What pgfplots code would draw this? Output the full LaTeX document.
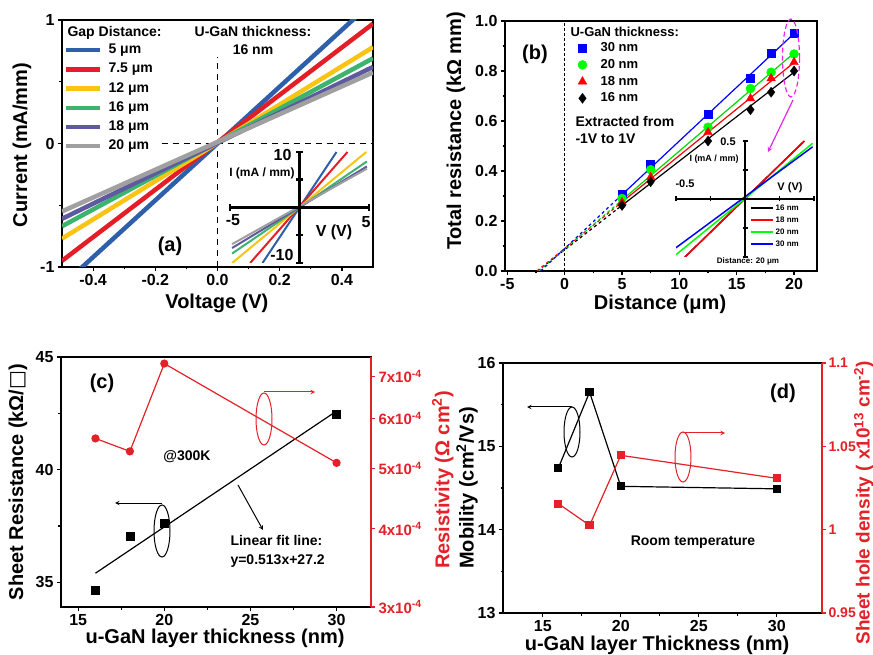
\documentclass[border=0pt]{standalone}
\usepackage{fontspec}
\setmainfont{Liberation Sans}
\newfontfamily\dejavu{DejaVu Sans}
\usepackage{pgfplots}
\pgfplotsset{compat=1.18}

\definecolor{cBlue}{RGB}{46,95,170}
\definecolor{cRed}{RGB}{228,30,38}
\definecolor{cYel}{RGB}{250,196,20}
\definecolor{cGrn}{RGB}{60,180,110}
\definecolor{cPur}{RGB}{95,90,160}
\definecolor{cGry}{RGB}{160,160,160}
\definecolor{pRed}{RGB}{228,32,40}
\definecolor{mag}{RGB}{230,40,230}

\newcommand{\fs}[1]{\fontsize{#1}{#1}\selectfont\bfseries}

\pgfplotsset{
  panel/.style={scale only axis, anchor=south west, enlargelimits=false,
    axis line style={line width=1.6pt}, tick style={line width=1.2pt, black},
    tick align=outside, tick pos=left, major tick length=4pt, minor tick length=2.5pt,
    /pgf/number format/assume math mode=true,
    tick label style={font=\fs{16}}, label style={font=\fs{20}}},
  inset/.style={scale only axis, anchor=south west, enlargelimits=false,
    axis lines=middle, axis on top, xticklabels={}, yticklabels={},
    tick align=center, tick style={black}},
}

\begin{document}
\begin{tikzpicture}
\path[use as bounding box] (0pt,0pt) rectangle (873pt,654pt);

% ---------- (a) ----------
\begin{axis}[panel, at={(62pt,387pt)}, width=311pt, height=247pt,
  xmin=-0.5, xmax=0.5, ymin=-1, ymax=1,
  xtick={-0.4,-0.2,0,0.2,0.4}, xticklabels={-0.4,-0.2,0.0,0.2,0.4},
  minor xtick={-0.3,-0.1,0.1,0.3}, ytick={-1,0,1}, minor ytick={-0.5,0.5},
  xlabel={Voltage (V)}, ylabel={Current (mA/mm)},
  xlabel style={at={(axis description cs:0.498,-0.146)}, anchor=center},
  ylabel style={at={(axis description cs:-0.129,0.494)}, anchor=center},
  legend style={at={(axis description cs:0.006,0.905)}, anchor=north west,
    draw=none, fill=none, inner sep=0pt, font=\fs{14}, row sep=6.2pt,
    nodes={inner sep=0pt, text height=10pt, text depth=3pt}},
  legend cell align=left,
  legend image code/.code={\draw[#1] (0pt,0pt) -- (34pt,0pt); \path (40pt,0pt);},
]
\draw[dashed, line width=1.5pt, dash pattern=on 6pt off 5pt] (axis cs:0,-1) -- (axis cs:0,0.7);
\draw[dashed, line width=1.5pt, dash pattern=on 6pt off 5pt] (axis cs:-0.18,0) -- (axis cs:0.5,0);
\addplot[cBlue, line width=4.5pt] coordinates {(-0.5,-1.15) (0.5,1.15)};
\addlegendentry{5 μm}
\addplot[cRed, line width=4.5pt] coordinates {(-0.5,-0.95) (0.5,0.97)};
\addlegendentry{7.5 μm}
\addplot[cYel, line width=4.5pt] coordinates {(-0.5,-0.77) (0.5,0.78)};
\addlegendentry{12 μm}
\addplot[cGrn, line width=4.5pt] coordinates {(-0.5,-0.67) (0.5,0.69)};
\addlegendentry{16 μm}
\addplot[cPur, line width=4.5pt] coordinates {(-0.5,-0.61) (0.5,0.62)};
\addlegendentry{18 μm}
\addplot[cGry, line width=4.5pt] coordinates {(-0.5,-0.55) (0.5,0.575)};
\addlegendentry{20 μm}
\end{axis}

% inset (a)
\begin{axis}[inset, at={(230pt,391pt)}, width=139pt, height=111pt,
  xmin=-5, xmax=5, ymin=-10, ymax=10,
  axis line style={-, line width=3pt}, xtick={-5,5}, ytick={-10,-5,5,10},
  tick style={line width=2.5pt}, major tick length=7pt]
\addplot[cBlue, line width=2pt] coordinates {(-2.66,-10) (2.66,10)};
\addplot[cRed, line width=2pt] coordinates {(-3.55,-10) (3.45,10)};
\addplot[cYel, line width=2pt] coordinates {(-4.85,-10) (4.8,10)};
\addplot[cGrn, line width=2pt] coordinates {(-4.85,-8.3) (4.85,8.3)};
\addplot[cPur, line width=2pt] coordinates {(-4.85,-7.3) (4.85,7.4)};
\addplot[cGry, line width=2pt] coordinates {(-4.85,-6.6) (4.85,7.0)};
\end{axis}

\node[anchor=west, font=\fs{14}] at (64pt,621pt) {Gap Distance:};
\node[font=\fs{14}] at (253pt,622pt) {U-GaN thickness:};
\node[font=\fs{14}] at (253pt,604pt) {16 nm};
\node[font=\fs{20}] at (170pt,408pt) {(a)};
\node[font=\fs{16}, anchor=east] at (295pt,499pt) {10};
\node[font=\fs{16}, anchor=east] at (297pt,399pt) {-10};
\node[font=\fs{16}] at (233pt,434pt) {-5};
\node[font=\fs{16}] at (366pt,432pt) {5};
\node[font=\fs{16}] at (334pt,422pt) {V (V)};
\node[font=\fs{12}] at (262pt,481pt) {I (mA / mm)};

% ---------- (b) ----------
\begin{axis}[panel, at={(505pt,383pt)}, width=312pt, height=250pt,
  xmin=-5.2, xmax=22, ymin=0, ymax=1,
  xtick={-5,0,5,10,15,20}, minor xtick={-2.5,2.5,7.5,12.5,17.5},
  ytick={0,0.2,0.4,0.6,0.8,1}, yticklabels={0.0,0.2,0.4,0.6,0.8,1.0},
  minor ytick={0.1,0.3,0.5,0.7,0.9},
  xlabel={Distance (μm)}, ylabel={Total resistance (kΩ mm)},
  xlabel style={at={(axis description cs:0.497,-0.132)}, anchor=center},
  ylabel style={at={(axis description cs:-0.157,0.56)}, anchor=center},
  legend style={at={(axis description cs:0.231,0.916)}, anchor=north west,
    draw=none, fill=none, inner sep=0pt, font=\fs{13}, row sep=4.7pt,
    nodes={inner sep=0pt, text height=9.5pt, text depth=2.5pt}},
  legend cell align=left,
  legend image code/.code={\draw[#1] plot coordinates {(5pt,0pt)}; \path (0pt,0pt) (23pt,0pt);},
]
\draw[line width=0.8pt, dash pattern=on 3pt off 2pt] (axis cs:0,0) -- (axis cs:0,1);
% fitted lines
\addplot[black, line width=1.2pt, forget plot] coordinates {(4.6,0.248) (20,0.795)};
\addplot[black, line width=1.2pt, dashed, forget plot] coordinates {(-2.39,0) (4.6,0.248)};
\addplot[red, line width=1.2pt, forget plot] coordinates {(4.6,0.261) (20,0.834)};
\addplot[red, line width=1.2pt, dashed, forget plot] coordinates {(-2.42,0) (4.6,0.261)};
\addplot[green!85!black, line width=1.2pt, forget plot] coordinates {(4.6,0.268) (20,0.872)};
\addplot[green!85!black, line width=1.2pt, dashed, forget plot] coordinates {(-2.24,0) (4.6,0.268)};
\addplot[blue, line width=1.2pt, forget plot] coordinates {(4.6,0.288) (20,0.95)};
\addplot[blue, line width=1.2pt, dashed, forget plot] coordinates {(-2.09,0) (4.6,0.288)};
% data
\addplot[only marks, mark=square*, mark size=4pt, blue] coordinates {(5,0.306) (7.5,0.427) (12.5,0.627) (16.2,0.77) (18,0.872) (20,0.952)};
\addlegendentry{30 nm}
\addplot[only marks, mark=*, mark size=4.5pt, green] coordinates {(5,0.29) (7.5,0.405) (12.5,0.575) (16.2,0.73) (18,0.795) (20,0.868)};
\addlegendentry{20 nm}
\addplot[only marks, mark=triangle*, mark size=5pt, red] coordinates {(5,0.275) (7.5,0.375) (12.5,0.555) (16.2,0.69) (18,0.77) (20,0.835)};
\addlegendentry{18 nm}
\addplot[only marks, mark=diamond*, mark size=5pt, black] coordinates {(5,0.262) (7.5,0.357) (12.5,0.52) (16.2,0.645) (18,0.715) (20,0.80)};
\addlegendentry{16 nm}
\end{axis}

% inset (b)
\begin{axis}[inset, at={(676pt,397pt)}, width=138pt, height=116pt,
  xmin=-0.5, xmax=0.5, ymin=-0.5, ymax=0.5,
  axis line style={-, line width=1.8pt}, xtick={-0.5,-0.25,0.25,0.5}, ytick={-0.5,-0.25,0.25,0.5},
  tick style={line width=1.5pt}, major tick length=5pt,
  legend style={at={(axis description cs:0.536,0.457)}, anchor=north west,
    draw=none, fill=none, inner sep=0pt, font=\fs{8}, row sep=4pt,
    nodes={inner sep=0pt, text height=6pt, text depth=2pt}},
  legend cell align=left,
  legend image code/.code={\draw[#1] (0pt,0pt) -- (22pt,0pt); \path (24pt,0pt);},
]
\addplot[black, line width=1.5pt] coordinates {(-0.435,-0.5) (0.43,0.5)};
\addlegendentry{16 nm}
\addplot[red, line width=1.5pt] coordinates {(-0.435,-0.5) (0.43,0.5)};
\addlegendentry{18 nm}
\addplot[green, line width=1.5pt] coordinates {(-0.5,-0.48) (0.49,0.48)};
\addlegendentry{20 nm}
\addplot[blue, line width=1.5pt] coordinates {(-0.5,-0.42) (0.49,0.45)};
\addlegendentry{30 nm}
\end{axis}

\node[anchor=west, font=\fs{13}] at (567pt,622pt) {U-GaN thickness:};
\node[font=\fs{20}] at (535pt,600pt) {(b)};
\node[anchor=west, font=\fs{14}] at (572pt,533pt) {Extracted from};
\node[anchor=west, font=\fs{14}] at (572pt,515pt) {-1V to 1V};
\node[font=\fs{11}] at (728pt,512pt) {0.5};
\node[font=\fs{9}] at (714pt,495pt) {I (mA / mm)};
\node[font=\fs{11}] at (685pt,470pt) {-0.5};
\node[font=\fs{11}] at (790pt,466pt) {V (V)};
\node[font=\fs{8}] at (748pt,393pt) {Distance: 20 μm};
\draw[mag, line width=1.2pt, dash pattern=on 5pt off 3pt] (791pt,596pt) ellipse (8.5pt and 39pt);
\draw[mag, line width=1.2pt, -stealth] (793pt,554pt) -- (768pt,502pt);

% ---------- (c) ----------
\begin{axis}[panel, at={(61pt,47pt)}, width=310pt, height=250pt,
  xmin=14, xmax=32, ymin=33.9, ymax=45,
  xtick={15,20,25,30}, minor xtick={17.5,22.5,27.5},
  ytick={35,40,45}, minor ytick={37.5,42.5},
  xlabel={u-GaN layer thickness (nm)}, ylabel={Sheet Resistance (kΩ/{\dejavu\bfseries □})},
  xlabel style={at={(axis description cs:0.497,-0.124)}, anchor=center},
  ylabel style={at={(axis description cs:-0.139,0.5)}, anchor=center},
]
\addplot[black, line width=1.2pt] coordinates {(16,35.4) (30,42.6)};
\addplot[only marks, mark=square*, mark size=4pt, black] coordinates {(16,34.66) (18,37.03) (20,37.62) (30,42.46)};
\end{axis}
\begin{axis}[scale only axis, anchor=south west, at={(61pt,47pt)}, width=310pt, height=250pt,
  xmin=14, xmax=32, ymode=log, ymin=3e-4, ymax=7.53e-4,
  axis x line=none, axis y line*=right,
  axis line style={pRed, line width=1.6pt}, tick style={pRed, line width=1.2pt},
  tick align=outside, major tick length=4pt, minor ytick={},
  ytick={3e-4,4e-4,5e-4,6e-4,7e-4},
  yticklabels={3x10\textsuperscript{-4},4x10\textsuperscript{-4},5x10\textsuperscript{-4},6x10\textsuperscript{-4},7x10\textsuperscript{-4}},
  y tick label style={pRed, font=\fs{15}},
  ylabel={Resistivity (Ω cm\textsuperscript{2})},
  ylabel style={pRed, font=\fs{20}, at={(axis description cs:1.232,0.508)}, anchor=center},
]
\addplot[pRed, line width=1.2pt, mark=*, mark size=3.5pt] coordinates {(16,5.58e-4) (18,5.32e-4) (20,7.35e-4) (30,5.10e-4)};
\end{axis}

\node[font=\fs{20}] at (102pt,271pt) {(c)};
\node[font=\fs{14}] at (187pt,197pt) {@300K};
\node[anchor=west, font=\fs{14}] at (227pt,114pt) {Linear fit line:};
\node[anchor=west, font=\fs{14}] at (227pt,93pt) {y=0.513x+27.2};
\draw[line width=1pt, -stealth] (238pt,169pt) -- (263pt,124pt);
\draw[line width=1pt] (162pt,123pt) ellipse (8pt and 26pt);
\draw[line width=1pt, -stealth] (162pt,151pt) -- (115pt,151pt);
\draw[pRed, line width=1pt] (264pt,235pt) ellipse (8pt and 26pt);
\draw[pRed, line width=1pt, -stealth] (264pt,262pt) -- (315pt,262pt);

% ---------- (d) ----------
\begin{axis}[panel, at={(503pt,41pt)}, width=319pt, height=250pt,
  xmin=12.45, xmax=32.9, ymin=13, ymax=16,
  xtick={15,20,25,30}, minor xtick={17.5,22.5,27.5},
  ytick={13,14,15,16}, minor ytick={13.5,14.5,15.5},
  xlabel={u-GaN layer Thickness (nm)}, ylabel={Mobility (cm\textsuperscript{2}/Vs)},
  xlabel style={at={(axis description cs:0.483,-0.128)}, anchor=center},
  ylabel style={at={(axis description cs:-0.113,0.5)}, anchor=center},
]
\addplot[black, line width=1.2pt, mark=square*, mark size=3.5pt] coordinates {(16,14.74) (18,15.65) (20,14.52) (30,14.49)};
\end{axis}
\begin{axis}[scale only axis, anchor=south west, at={(503pt,41pt)}, width=319pt, height=250pt,
  xmin=12.45, xmax=32.9, ymin=0.95, ymax=1.1,
  axis x line=none, axis y line*=right,
  axis line style={pRed, line width=1.6pt}, tick style={pRed, line width=1.2pt},
  tick align=outside, major tick length=4pt,
  ytick={0.95,1,1.05,1.1}, yticklabels={0.95,1,1.05,1.1},
  y tick label style={pRed, font=\fs{14}, xshift=-1pt},
  ylabel={Sheet hole density ( x10\textsuperscript{13} cm\textsuperscript{-2})},
  ylabel style={pRed, font=\fs{19}, at={(axis description cs:1.131,0.44)}, anchor=center},
]
\addplot[pRed, line width=1.2pt, mark=square*, mark size=3.5pt] coordinates {(16,1.0156) (18,1.0026) (20,1.0446) (30,1.0308)};
\end{axis}

\node[font=\fs{20}] at (783pt,261pt) {(d)};
\node[font=\fs{14}] at (693pt,112pt) {Room temperature};
\draw[line width=1pt] (572pt,222pt) ellipse (8pt and 25pt);
\draw[line width=1pt, -stealth] (572pt,247pt) -- (527pt,247pt);
\draw[pRed, line width=1pt] (683pt,197pt) ellipse (8pt and 25pt);
\draw[pRed, line width=1pt, -stealth] (683pt,221pt) -- (725pt,221pt);
\end{tikzpicture}
\end{document}
